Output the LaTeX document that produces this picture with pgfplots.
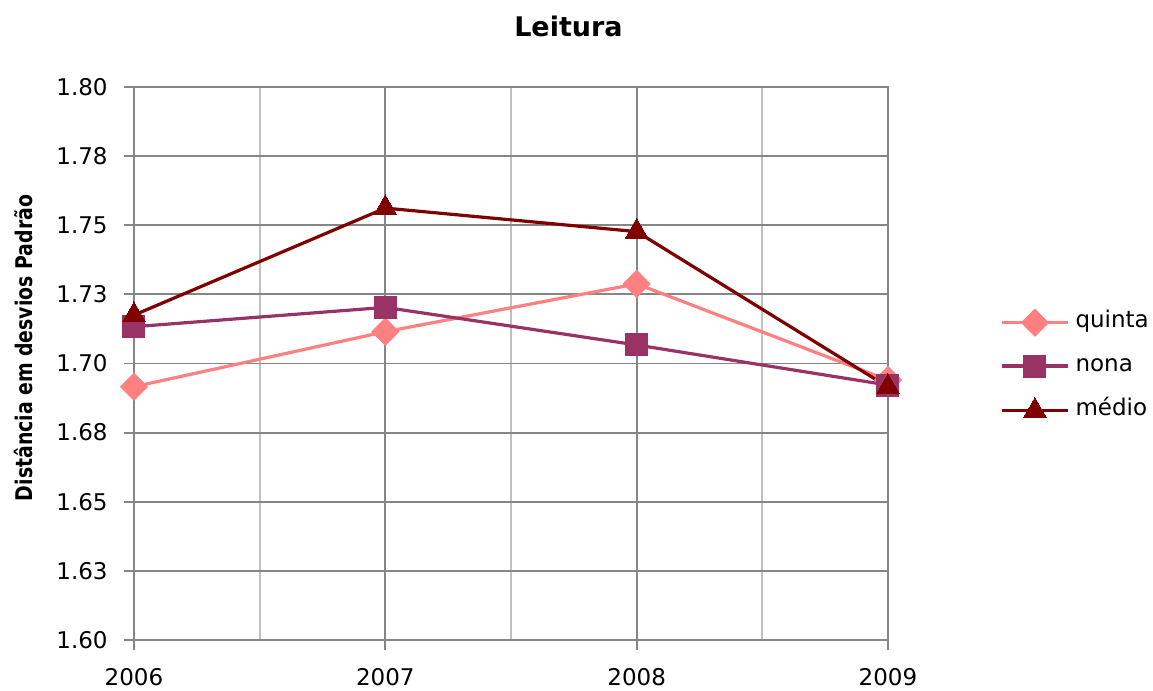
\documentclass[border=0pt]{standalone}
\usepackage{fontspec}
\setmainfont{DejaVu Sans}
\newfontfamily\condfont[FakeStretch=0.82]{DejaVu Sans}
\usepackage{pgfplots}
\pgfplotsset{compat=1.18}
\definecolor{cquinta}{HTML}{FF8080}
\definecolor{cnona}{HTML}{993366}
\definecolor{cmedio}{HTML}{800000}
\definecolor{gridmajor}{HTML}{868686}
\definecolor{gridminor}{HTML}{C0C0C0}
\begin{document}
\begin{tikzpicture}[x=1pt,y=1pt]
\path[use as bounding box] (0,0) rectangle (576.5,345.5);
\begin{axis}[
  at={(67pt,25.5pt)}, anchor=south west,
  scale only axis, width=377pt, height=276.5pt,
  xmin=2006, xmax=2009, ymin=1.6, ymax=1.8,
  clip=false,
  xtick={2006,2007,2008,2009},
  xticklabels={2006,2007,2008,2009},
  minor xtick={2006.5,2007.5,2008.5},
  ytick={1.6,1.625,1.65,1.675,1.7,1.725,1.75,1.775,1.8},
  yticklabels={1.60,1.63,1.65,1.68,1.70,1.73,1.75,1.78,1.80},
  xmajorgrids, ymajorgrids, xminorgrids,
  major grid style={color=gridmajor, line width=0.95pt},
  minor grid style={color=gridminor, line width=0.95pt},
  axis line style={color=gridmajor, line width=0.95pt},
  tick style={color=gridmajor, line width=0.95pt},
  tick align=outside, tick pos=left,
  major tick length=5pt, minor tick length=0pt,
  /pgf/number format/assume math mode=true,
  ticklabel style={font=\fontsize{11.5}{13}\selectfont},
  yticklabel style={inner sep=0pt, anchor=east, xshift=-8pt},
  xticklabel style={inner sep=0pt, anchor=north, yshift=-9pt},
  ylabel={Distância em desvios Padrão},
  ylabel style={at={(axis description cs:-0.1472,0.528)}, anchor=center,
    font=\condfont\bfseries\fontsize{11.5}{13}\selectfont},
  legend style={at={(1.1485,0.495)}, anchor=west, draw=none, fill=none,
    inner sep=0pt, row sep=10.25pt, column sep=3pt,
    nodes={inner sep=0pt, text height=8pt, text depth=3pt,
      font=\fontsize{11.5}{13}\selectfont},
    cells={anchor=west}},
  legend image code/.code={\draw[mark repeat=2,mark phase=2]
    plot coordinates {(-1pt,0pt) (15.5pt,0pt) (32pt,0pt)};},
  every axis plot/.append style={line width=1.6pt},
]
\addplot[color=cquinta, mark=square*, mark size=4.2pt,
  mark options={rotate=45, solid, fill=cquinta}]
  coordinates {(2006,1.6916) (2007,1.7115) (2008,1.7288) (2009,1.6940)};
\addlegendentry{quinta}
\addplot[color=cnona, mark=square*, mark size=5.5pt,
  mark options={solid, fill=cnona, line width=0pt}]
  coordinates {(2006,1.7133) (2007,1.7203) (2008,1.7067) (2009,1.6922)};
\addlegendentry{nona}
\addplot[color=cmedio, mark=triangle*, mark size=6.6pt,
  mark options={solid, fill=cmedio, line width=0pt}]
  coordinates {(2006,1.7175) (2007,1.7562) (2008,1.7477) (2009,1.6915)};
\addlegendentry{médio}
\end{axis}
\node[anchor=base, font=\bfseries\fontsize{13.5}{16}\selectfont] at (284.25,327) {Leitura};
\end{tikzpicture}
\end{document}
